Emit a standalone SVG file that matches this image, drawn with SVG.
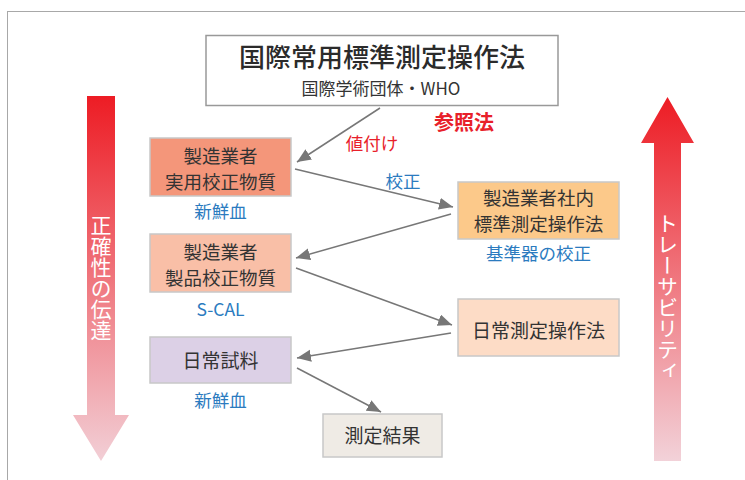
<svg xmlns="http://www.w3.org/2000/svg" width="745" height="480" viewBox="0 0 745 480">
<defs>
<style>
text{font-family:"Noto Sans CJK JP","Noto Sans",sans-serif;}
.box{stroke:#c8c8c8;stroke-width:1.5;}
.t{font-size:19px;fill:#333;text-anchor:middle;}
.t2{font-size:18.5px;fill:#333;text-anchor:middle;}
.blue{font-size:17.5px;fill:#2b7bbf;text-anchor:middle;}
.red{fill:#e8202a;}
.vt{font-size:21px;fill:#fff;text-anchor:middle;writing-mode:vertical-rl;}
.conn line{stroke:#777;stroke-width:1.5;marker-end:url(#ah);}
</style>
<marker id="ah" markerUnits="userSpaceOnUse" markerWidth="16" markerHeight="14" refX="14" refY="6" orient="auto">
<path d="M0,0 L14,6 L0,12 Z" fill="#777"/>
</marker>
<linearGradient id="gDown" x1="0" y1="0" x2="0" y2="1">
<stop offset="0" stop-color="#ed1c24"/>
<stop offset="1" stop-color="#f2cfd6"/>
</linearGradient>
<linearGradient id="gUp" x1="0" y1="1" x2="0" y2="0">
<stop offset="0" stop-color="#f2d2d9"/>
<stop offset="1" stop-color="#ed1c24"/>
</linearGradient>
</defs>
<rect width="745" height="480" fill="#fff"/>
<rect x="7.5" y="11.5" width="760" height="500" fill="none" stroke="#a8a8a8" stroke-width="1"/>

<g id="arrow-accuracy">
<path d="M87,96 L115,96 L115,415 L129,415 L101,461 L73,415 L87,415 Z" fill="url(#gDown)"/>
<text class="vt" x="101" y="278">正確性の伝達</text>
</g>
<g id="arrow-traceability">
<path d="M667.5,97 L694,143 L681,143 L681,461 L654,461 L654,143 L641,143 Z" fill="url(#gUp)"/>
<text class="vt" x="667.5" y="297">トレーサビリティ</text>
</g>

<g class="conn" id="connectors">
<line x1="380" y1="108" x2="297" y2="162"/>
<line x1="295" y1="169" x2="453" y2="207"/>
<line x1="451" y1="214" x2="296" y2="258"/>
<line x1="296" y1="268" x2="452" y2="325"/>
<line x1="451" y1="333" x2="297" y2="358"/>
<line x1="297" y1="368" x2="381" y2="412"/>
</g>

<g id="top">
<rect x="206" y="35.5" width="352" height="70" fill="#fff" stroke="#999" stroke-width="1.5"/>
<text x="382" y="67" font-size="26" font-weight="500" fill="#2b2b2b" text-anchor="middle">国際常用標準測定操作法</text>
<text x="381" y="95" font-size="17" fill="#333" text-anchor="middle">国際学術団体・WHO</text>
</g>
<text class="red" x="464" y="130" font-size="20" font-weight="bold" text-anchor="middle">参照法</text>
<text class="red" x="372" y="150" font-size="17.5" text-anchor="middle">値付け</text>
<text class="blue" x="403" y="188">校正</text>

<g id="mfr-practical">
<rect class="box" x="150" y="138" width="141" height="58" fill="#f4967a"/>
<text class="t2" x="220.5" y="163">製造業者</text>
<text class="t2" x="220.5" y="189">実用校正物質</text>
<text class="blue" x="220.5" y="218">新鮮血</text>
</g>
<g id="mfr-product">
<rect class="box" x="150" y="234" width="141" height="58" fill="#f9bfa7"/>
<text class="t2" x="220.5" y="259">製造業者</text>
<text class="t2" x="220.5" y="285">製品校正物質</text>
<text class="blue" x="220.5" y="316">S-CAL</text>
</g>
<g id="daily-sample">
<rect class="box" x="150" y="337" width="141" height="46" fill="#dcd0e6"/>
<text class="t" x="220.5" y="368" font-size="20">日常試料</text>
<text class="blue" x="220.5" y="407">新鮮血</text>
</g>
<g id="inhouse">
<rect class="box" x="458" y="182" width="161" height="57" fill="#fcc98a"/>
<text class="t2" x="538.5" y="205">製造業者社内</text>
<text class="t2" x="538.5" y="231">標準測定操作法</text>
<text class="blue" x="538.5" y="260">基準器の校正</text>
</g>
<g id="daily-method">
<rect class="box" x="458" y="299" width="161" height="57" fill="#fddcc6"/>
<text class="t" x="538.5" y="338">日常測定操作法</text>
</g>
<g id="result">
<rect class="box" x="323" y="414" width="119" height="43" fill="#efebe5" stroke="#e4e4e4"/>
<text class="t" x="382.5" y="443" font-size="20">測定結果</text>
</g>
</svg>
